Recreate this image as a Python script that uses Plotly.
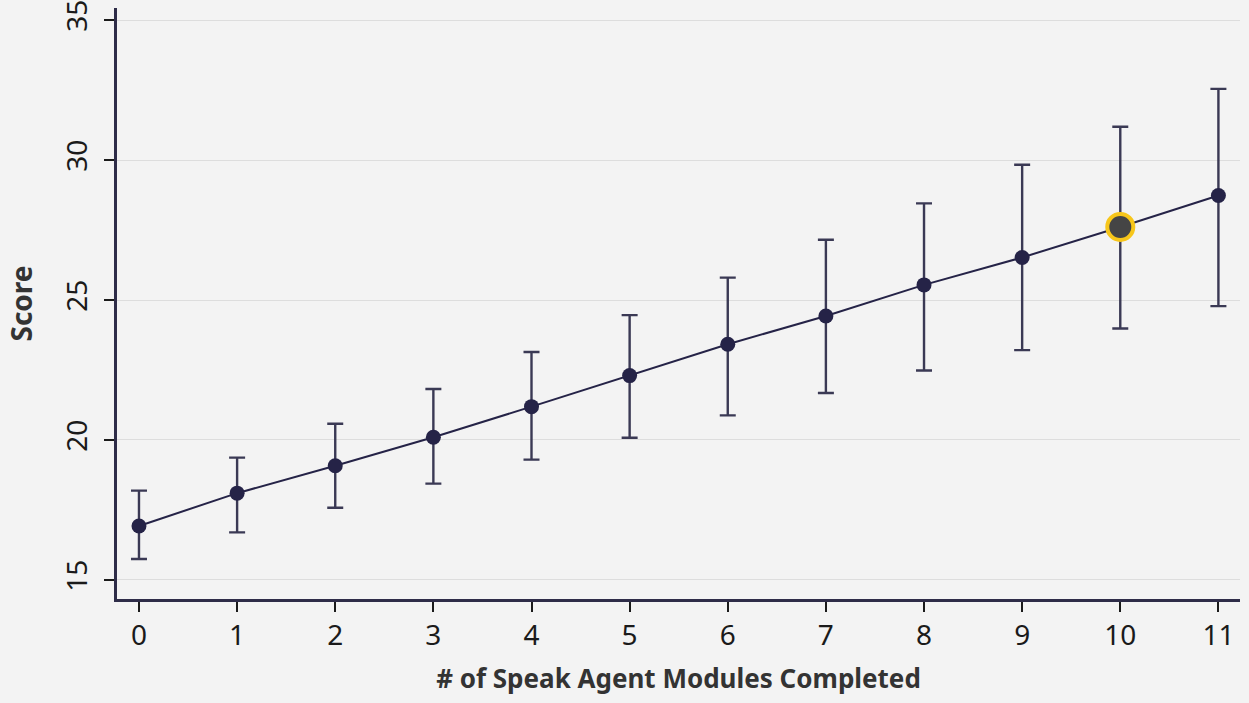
import plotly.graph_objects as go

modules = [0, 1, 2, 3, 4, 5, 6, 7, 8, 9, 10, 11]
score_mean = [16.93, 18.10, 19.08, 20.10, 21.19, 22.30, 23.42, 24.43, 25.54, 26.52, 27.61, 28.73]
score_upper = [18.19, 19.37, 20.58, 21.82, 23.14, 24.46, 25.80, 27.15, 28.45, 29.83, 31.19, 32.54]
score_lower = [15.75, 16.70, 17.58, 18.44, 19.30, 20.08, 20.88, 21.68, 22.48, 23.21, 23.98, 24.78]
highlight_module = 10

y_ticks = [15, 20, 25, 30, 35]
x_ticks = modules

err_plus = [u - m for u, m in zip(score_upper, score_mean)]
err_minus = [m - l for m, l in zip(score_mean, score_lower)]

navy = "#252347"
marker_colors = ["#454545" if m == highlight_module else navy for m in modules]
marker_sizes = [26 if m == highlight_module else 15 for m in modules]
line_colors = ["#f7c61a" if m == highlight_module else navy for m in modules]
line_widths = [4 if m == highlight_module else 0 for m in modules]

fig = go.Figure()
# line + error bars
fig.add_trace(go.Scatter(
    x=modules, y=score_mean, mode="lines",
    line=dict(color=navy, width=2),
    error_y=dict(type="data", symmetric=False, array=err_plus, arrayminus=err_minus,
                 color="#3a3954", thickness=2.4, width=8),
    showlegend=False, hoverinfo="skip",
))
# markers on top
fig.add_trace(go.Scatter(
    x=modules, y=score_mean, mode="markers",
    marker=dict(color=marker_colors, size=marker_sizes, opacity=1,
                line=dict(color=line_colors, width=line_widths)),
    showlegend=False, hoverinfo="skip",
))

bg = "#f3f3f3"
fig.update_layout(
    width=1249, height=703,
    paper_bgcolor=bg, plot_bgcolor=bg,
    margin=dict(l=117, r=9, t=8, b=104),
    font=dict(family="Noto Sans", color="#1a1a1a", size=28),
    showlegend=False,
)
fig.update_xaxes(
    range=[-0.224, 11.22], tickvals=x_ticks, ticktext=[str(t) for t in x_ticks],
    showgrid=False, zeroline=False,
    showline=True, linecolor="#2e2c48", linewidth=2.5,
    ticks="outside", ticklen=10, tickwidth=2, tickcolor="#1a1a1a",
    tickfont=dict(size=28, family="Noto Sans", color="#1a1a1a"),
    ticklabeloverflow="allow",
    title=dict(text="# of Speak Agent Modules Completed",
               font=dict(size=26, family="Noto Sans", color="#333333", weight=700),
               standoff=18),
    automargin=False,
)
fig.update_yaxes(
    range=[14.32, 35.43], tickvals=y_ticks, ticktext=[str(t) for t in y_ticks],
    showgrid=True, gridcolor="#dddddd", gridwidth=1, zeroline=False,
    showline=True, linecolor="#2e2c48", linewidth=2.5,
    ticks="outside", ticklen=10, tickwidth=2, tickcolor="#1a1a1a",
    tickangle=-90, ticklabelstandoff=6, ticklabeloverflow="allow",
    tickfont=dict(size=28, family="Noto Sans", color="#1a1a1a"),
    title=dict(text="Score",
               font=dict(size=28, family="Noto Sans", color="#333333", weight=700),
               standoff=17),
    automargin=False,
)

fig.write_html("out.html", config={"displayModeBar": False},
               post_script="document.body.style.margin='0';document.body.style.background='#f3f3f3';")
